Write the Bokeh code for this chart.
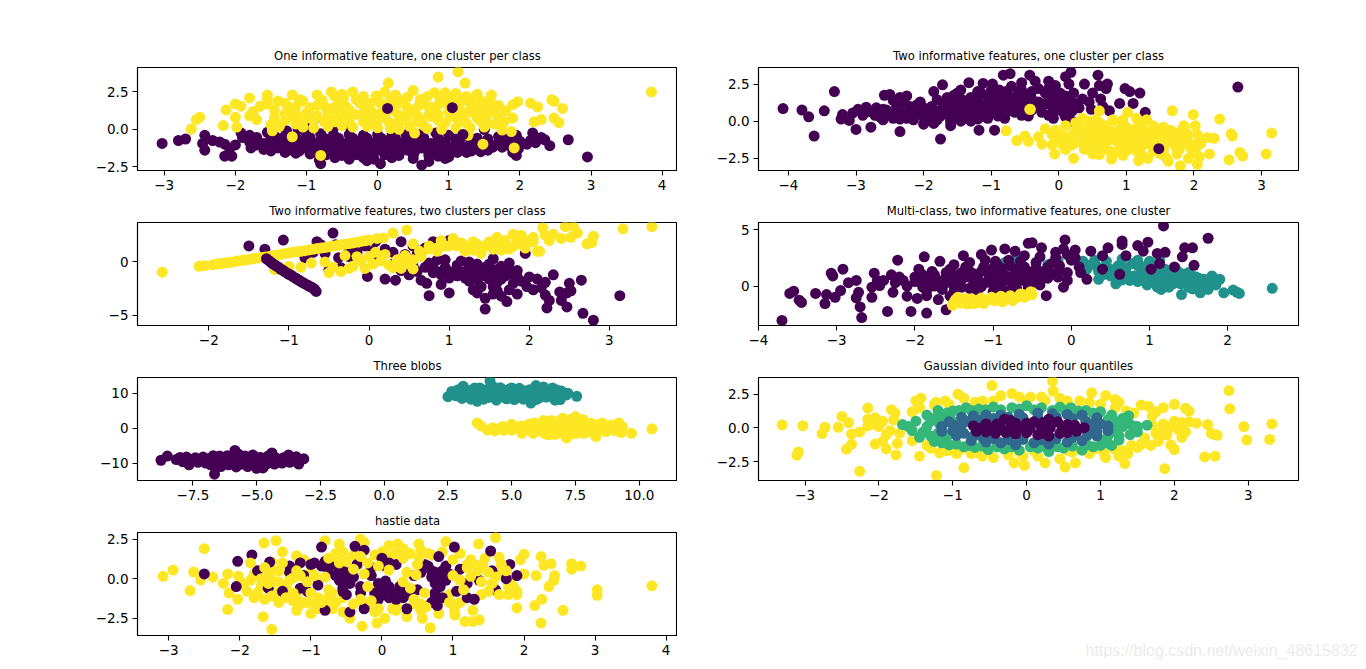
from bokeh.plotting import figure
from bokeh.layouts import column, row
from bokeh.models import ColumnDataSource, FixedTicker, Label
from bokeh.embed import file_html
from bokeh.resources import INLINE

PURPLE, TEAL, YELLOW = "#440154", "#21918c", "#fde725"
BLUE4, GREEN4 = "#31688e", "#35b779"
FONT = "DejaVu Sans"

TITLES = ["One informative feature, one cluster per class", "Two informative features, one cluster per class",
          "Two informative features, two clusters per class", "Multi-class, two informative features, one cluster",
          "Three blobs", "Gaussian divided into four quantiles", "hastie data"]

# ---------- panel 1 ----------
P1_PURPLE = [(-3.03,-0.95),(-2.8,-0.75),(-2.7,-0.65),(-2.43,-0.4),(-2.46,-0.95),(-2.43,-1.4),(-2.32,-0.75),(-2.22,-0.85),(-2.15,-1.0),(-2.15,-1.8),(-2.05,-1.8),(-2.0,-1.05),(-2.08,-1.3),
(-1.92,-0.25),(-1.8,-0.4),(-1.7,-0.55),(-1.55,-0.2),(-1.45,-0.45),(-1.28,-0.1),(-1.12,0.0),(-1.0,-0.35),(-0.9,0.6),(-0.92,0.2),(-0.62,0.1),(-0.42,0.3),(-0.8,-0.3),(-0.62,-0.35),(-0.4,-0.35),(-0.2,-0.4),(0.0,-0.35),(0.2,-0.4),(0.4,-0.35),(0.62,-0.3),(0.82,-0.25),(1.0,-0.4),(1.2,-0.45),(1.5,0.0),(1.4,-0.6),(1.7,-0.5),(1.85,-0.45),(1.95,-0.4),
(-1.8,-0.85),(-1.6,-0.95),(-1.42,-0.8),(-1.25,-0.95),(-1.05,-0.8),(-0.85,-0.9),(-0.65,-0.8),(-0.45,-0.95),(-0.25,-0.8),(-0.05,-0.9),(0.15,-0.8),(0.35,-0.9),(0.55,-0.8),(0.75,-0.95),(0.95,-0.85),(1.15,-0.9),(1.35,-0.95),(1.55,-0.95),(1.72,-0.8),(1.92,-0.9),
(-1.78,-1.25),(-1.6,-1.35),(-1.4,-1.25),(-1.2,-1.4),(-1.0,-1.25),(-0.8,-1.35),(-0.6,-1.25),(-0.4,-1.4),(-0.2,-1.3),(0.0,-1.4),(0.2,-1.3),(0.42,-1.4),(0.62,-1.25),(0.82,-1.4),(1.02,-1.3),(1.22,-1.4),(1.42,-1.3),(1.62,-1.2),
(-1.15,-1.6),(-0.95,-1.65),(-0.72,-1.7),(-0.5,-1.75),(-0.3,-1.7),(-0.1,-1.75),(0.1,-1.7),(0.3,-1.75),(0.5,-1.7),(0.72,-1.75),(0.9,-1.65),(1.25,-1.55),(1.45,-1.5),
(-0.82,-2.05),(-0.8,-2.3),(-0.4,-2.0),(-0.15,-2.1),(-0.05,-2.0),(0.04,-2.3),(0.62,-2.4),(0.72,-2.15),(0.95,-1.95),(1.0,-1.85),(1.95,-1.75),(1.98,-1.3),(2.42,-1.1),(2.3,-0.55),(2.18,-0.25),(2.35,-0.7),(2.15,-0.75),(2.0,-0.8),(2.68,-0.7),(2.95,-1.85),(1.5,0.0)]
P1_PURPLE_FILL = [(-1.9,-0.55),(-1.7,-0.75),(-1.5,-0.6),(-1.33,-0.55),(-1.15,-0.55),(-0.95,-0.55),(-0.75,-0.6),(-0.55,-0.6),(-0.35,-0.6),(-0.15,-0.6),(0.05,-0.6),(0.25,-0.6),(0.45,-0.6),(0.65,-0.6),(0.85,-0.6),(1.1,-0.65),(1.3,-0.65),(1.55,-0.65),(1.78,-0.65),
(-1.7,-1.05),(-1.5,-1.05),(-1.32,-1.1),(-1.12,-1.05),(-0.92,-1.1),(-0.72,-1.05),(-0.52,-1.15),(-0.32,-1.05),(-0.12,-1.1),(0.08,-1.05),(0.28,-1.1),(0.48,-1.05),(0.68,-1.15),(0.88,-1.1),(1.08,-1.1),(1.28,-1.15),(1.48,-1.1),(1.68,-1.0),(1.85,-1.1),
(-1.5,-1.45),(-1.3,-1.55),(-1.1,-1.45),(-0.9,-1.5),(-0.7,-1.5),(-0.5,-1.55),(-0.3,-1.5),(-0.1,-1.55),(0.1,-1.5),(0.3,-1.55),(0.52,-1.5),(0.72,-1.55),(0.92,-1.5),(1.12,-1.55),(1.32,-1.45),(1.55,-1.4),(1.75,-1.2),(1.9,-1.55),(2.22,-0.9),(2.1,-1.0),
(-0.6,-1.9),(-0.2,-1.9),(0.2,-1.9),(0.5,-1.95),(0.85,-1.8)]
P1_YELLOW = [(3.85,2.5),(1.13,3.85),(0.85,3.5),(1.23,3.1),(0.15,3.1),(2.45,1.98),(2.48,1.88),(2.6,1.4),(2.48,0.75),(2.55,0.45),(2.3,0.65),(2.2,0.5),(2.25,1.5),(2.15,1.75),(1.97,1.85),(1.9,1.65),(1.8,1.25),(1.9,0.75),(1.78,0.5),(1.92,-1.25),(-2.62,0.02),(-2.5,0.8),(-2.55,0.65),(-2.17,0.25),(-2.13,1.3),(-2.0,1.7),(-1.92,1.55),(-2.0,0.8),(-1.98,0.15),(-1.8,2.1),(-1.7,0.65),(-1.65,1.55),(-1.8,0.9),(-1.55,2.3),(-1.48,-0.1),(-1.55,2.0),
(-1.4,1.9),(-1.25,1.5),(-1.2,2.3),(-1.05,1.9),(-0.85,2.3),(-0.65,2.5),(-0.5,2.35),(-0.35,2.5),(-0.2,2.2),(-0.02,2.25),(0.1,2.5),(0.3,2.0),(0.5,2.6),(0.7,2.2),(0.8,2.45),(0.95,2.45),(1.1,2.4),(1.25,2.2),(1.4,2.35),(1.6,2.3),(1.45,1.9),
(-1.45,1.3),(-1.3,1.05),(-1.15,1.5),(-1.0,1.1),(-0.85,1.6),(-0.7,1.2),(-0.55,1.75),(-0.4,1.3),(-0.25,1.75),(-0.1,1.25),(0.05,1.7),(0.2,1.3),(0.35,1.75),(0.5,1.3),(0.65,1.75),(0.8,1.3),(0.95,1.8),(1.15,1.35),(1.3,1.75),(1.45,1.3),(1.6,1.6),(1.65,1.1),
(-1.3,0.6),(-1.15,0.35),(-1.0,0.75),(-0.75,0.5),(-0.55,0.85),(-0.4,0.55),(-0.2,0.8),(-0.05,0.4),(0.1,0.8),(0.25,0.35),(0.4,0.8),(0.55,0.5),(0.75,0.85),(0.95,0.45),(1.1,0.8),(1.25,0.4),(1.4,0.75),(1.55,0.4),
(-0.9,0.1),(-0.15,0.2),(0.18,0.05),(0.45,0.2),(0.9,0.0),(1.1,0.1),(1.75,-0.05),(1.88,-0.15),(0.52,-0.25),(1.27,-0.4),(-1.2,-0.5),(1.48,-1.0)]
P1_YELLOW_FILL = [(-1.55,1.7),(-1.45,0.8),(-1.3,1.75),(-1.15,1.0),(-1.1,2.0),(-0.95,1.45),(-0.9,0.6),(-0.78,1.95),(-0.62,1.45),(-0.6,0.5),(-0.48,2.1),(-0.32,1.0),(-0.3,2.0),(-0.15,1.45),(-0.12,0.7),(0.0,2.0),(0.0,1.0),(0.12,1.45),(0.15,0.5),(0.18,2.05),(0.28,1.0),(0.42,1.45),(0.42,2.15),(0.55,0.95),(0.6,2.0),(0.72,1.5),(0.65,0.25),(0.85,1.0),(0.88,2.05),(1.02,1.5),(1.02,0.9),(1.05,2.1),(1.2,1.95),(1.22,1.0),(1.38,1.5),(1.35,1.1),(1.52,0.95),(1.58,2.0),(1.7,0.75),(1.7,1.6),(-0.7,0.2),(-0.5,0.25),(-0.35,0.15),(-1.05,0.15),(0.0,0.1),(0.3,0.0),(0.7,0.05),(1.3,0.1),(1.5,0.15),(1.65,0.35),(-1.75,1.2),(-1.5,0.3),(-1.38,0.2),
(-1.2,0.8),(-1.25,1.25),(-1.05,0.55),(-0.85,0.9),(-0.7,0.85),(-0.75,1.55),(-0.6,2.2),(-0.45,1.0),(-0.45,1.55),(-0.2,0.5),(-0.2,1.1),(-0.1,1.75),(0.08,1.15),(0.25,1.65),(0.25,2.3),(0.35,0.6),(0.42,1.1),(0.58,1.6),(0.6,0.7),(0.72,1.0),(0.85,1.65),(0.85,0.6),(1.0,1.2),(1.12,1.7),(1.15,0.55),(1.3,1.25),(1.3,2.0),(1.45,0.55),(1.55,1.05),(1.55,1.55),(0.0,0.6),(-0.55,1.2)]
P1_TOP_PURPLE = [(0.14,1.4),(1.05,1.45),(1.2,-0.35)]
P1_TOP_YELLOW = [(-0.8,-1.75)]

# ---------- panel 2 ----------
P2_PURPLE = [(-4.08,0.85),(-3.8,0.75),(-3.7,0.3),(-3.62,-1.0),(-3.47,0.7),(-3.32,2.0),(-3.2,0.45),(-3.22,0.15),(-3.1,0.05),(-3.0,-0.55),(-2.97,0.8),(-2.85,0.95),(-2.78,-0.4),(-2.72,0.4),(-2.6,0.1),(-2.6,0.8),(-2.58,1.75),(-2.5,1.8),(-2.45,1.4),(-2.45,0.2),(-2.35,-0.7),(-2.3,1.2),(-2.3,0.5),(-2.25,1.7),(-2.15,0.1),(-2.1,0.75),(-2.05,1.3),(-2.0,-0.2),(-1.95,0.5),(-1.88,1.0),(-1.85,2.0),(-1.8,0.1),(-1.75,-1.2),(-1.72,2.45),(-1.7,1.2),(-1.65,0.5),(-1.6,-0.3),(-1.55,1.75),(-1.5,0.8),(-1.45,0.0),(-1.42,1.35),(-1.35,0.4),(-1.33,2.6),(-1.25,1.0),(-1.2,2.0),(-1.18,-0.6),(-1.15,0.3),(-1.12,2.55),(-1.05,1.3),(-1.0,0.55),(-0.98,2.5),(-0.95,-0.6),(-0.92,1.7),(-0.85,1.0),(-0.8,0.2),(-0.82,3.1),(-0.78,2.0),(-0.72,3.2),(-0.7,1.3),(-0.65,0.6),(-0.6,1.7),(-0.55,2.6),(-0.5,1.1),(-0.45,0.35),(-0.43,3.1),(-0.4,2.0),(-0.35,2.7),(-0.3,1.3),(-0.25,0.6),(-0.2,1.9),(-0.15,2.7),(-0.1,1.0),(-0.08,0.2),(-0.05,2.4),(0.0,1.4),(0.08,0.5),(0.1,3.0),(0.12,1.1),(0.15,2.5),(0.18,3.3),(0.2,0.0),(0.3,0.9),(0.38,2.5),(0.45,1.3),(0.5,1.9),(0.58,3.1),(0.6,2.4),(0.65,1.0),(0.7,2.2),(0.72,2.5),(0.75,0.7),(0.9,1.2),(0.98,2.2),(1.05,2.0),(1.1,1.2),(1.2,1.9),(1.28,0.6),(2.65,2.3),
(-2.9,0.4),(-2.5,0.5),(-2.2,0.6),(-1.9,0.6),(-1.55,1.1),(-1.3,1.6),(-1.1,0.8),(-0.75,1.0),(-0.55,0.4),(-0.35,1.0),(-0.15,0.4),(0.15,1.5),(-2.4,1.0),(-1.98,0.1),(-1.6,0.1),(-1.3,0.0),(-2.7,0.9)]
P2_PURPLE_FILL = [(-3.05,0.55),(-2.8,0.65),(-2.65,0.3),(-2.4,0.6),(-2.35,0.15),(-2.2,1.0),(-2.15,0.35),(-2.0,0.9),(-2.02,0.4),(-1.85,0.35),(-1.8,1.45),(-1.75,0.75),(-1.65,1.6),(-1.6,0.85),(-1.55,0.35),(-1.45,1.5),(-1.42,0.65),(-1.3,1.1),(-1.25,0.4),(-1.2,1.6),(-1.12,1.05),(-1.05,1.7),(-1.05,0.2),(-0.95,1.15),(-0.9,0.35),(-0.88,2.1),(-0.8,1.5),(-0.7,0.7),(-0.7,2.35),(-0.62,1.1),(-0.55,2.1),(-0.52,0.7),(-0.4,1.5),(-0.4,0.75),(-0.3,2.2),(-0.25,1.0),(-0.12,1.5),(-0.05,0.7),(0.02,1.9),(0.08,1.0),(0.2,0.7),(0.25,1.2),(0.22,1.9),(0.35,1.5),(0.48,0.8),(0.62,1.5),(-1.6,-0.05),(-1.4,0.2),(-1.85,-0.15),(-2.55,0.75),(-2.35,1.6),(-1.15,0.7),(-0.95,0.75),(-1.45,2.1),(-1.0,2.05),(-0.6,2.0),(-0.15,2.2),(0.0,1.0),
(-2.6,0.45),(-2.25,0.2),(-2.1,1.1),(-1.75,0.35),(-1.65,1.0),(-1.5,0.55),(-1.35,0.8),(-1.35,1.4),(-1.2,0.15),(-1.2,1.25),(-1.0,1.0),(-0.85,0.6),(-0.85,1.3),(-0.75,1.75),(-0.6,0.9),(-0.5,1.4),(-0.45,1.75),(-0.2,1.2),(-0.1,1.75),(0.1,1.7),(0.1,0.3),(-1.5,1.9),(-1.15,1.9)]
P2_YELLOW = [(-0.78,-0.65),(-0.62,-1.3),(-0.5,-1.0),(-0.45,-1.35),(-0.3,-1.05),(-0.25,-1.55),(-0.2,-0.5),(-0.1,-0.9),(-0.06,-2.2),(0.0,-1.3),(0.1,-0.3),(0.1,-1.9),(0.22,-2.5),(0.2,-0.9),(0.3,-1.4),(0.35,0.2),(0.38,-1.9),(0.45,-0.4),(0.5,-1.0),(0.55,-1.7),(0.6,0.7),(0.7,-0.3),(0.72,-1.3),(0.78,-2.55),(0.85,-0.8),(0.9,-1.8),(1.0,-0.4),(1.02,0.6),(1.08,-1.3),(1.15,-2.0),(1.18,-2.65),(1.25,-0.6),(1.3,-1.5),(1.32,-2.5),(1.4,-0.3),(1.42,-1.0),(1.5,-2.2),(1.55,-0.4),(1.6,-1.4),(1.62,-2.7),(1.68,0.7),(1.72,-0.8),(1.78,-1.9),(1.8,-3.0),(1.85,-0.3),(1.9,-1.2),(1.92,-2.5),(1.99,0.45),(2.02,-0.3),(2.03,-1.8),(2.05,-2.9),(2.1,-1.2),(2.2,-1.1),(2.23,-2.2),(2.3,-1.15),(2.38,0.15),(2.55,-0.85),(2.57,-1.0),(2.52,-2.6),(2.68,-2.1),(2.72,-2.35),(3.07,-2.2),(3.15,-0.8),(2.0,-1.6),(2.08,-2.4),
(0.4,-0.9),(0.6,-1.2),(0.8,-0.9),(1.0,-1.1),(1.2,-0.9),(1.4,-1.7),(1.6,-0.9),(0.6,-0.7),(0.9,-1.5),(1.1,-1.8),(1.25,-1.2),(1.7,-1.4),(1.8,-1.0),(0.3,-0.4),(0.5,-2.2),(0.95,-2.3),(0.6,-2.25),(1.4,-2.0),(0.15,-1.1),(-0.42,0.8),(1.3,0.1),(0.8,0.1),(0.55,0.1)]
P2_YELLOW_FILL = [(-0.05,-0.6),(0.05,-1.55),(0.2,-1.6),(0.25,-0.1),(0.4,-1.35),(0.45,0.0),(0.5,-0.65),(0.65,-1.6),(0.68,-0.95),(0.75,-0.55),(0.75,-2.0),(0.85,-1.3),(0.9,-0.2),(0.95,-0.75),(1.0,-1.6),(1.0,-2.0),(1.12,-0.55),(1.15,-1.55),(1.2,-0.2),(1.22,-2.25),(1.35,-0.8),(1.38,-1.35),(1.45,-0.6),(1.5,-1.6),(1.55,-0.95),(1.55,-1.9),(1.58,-2.4),(1.65,-0.6),(1.65,-1.15),(1.72,-1.65),(1.75,-2.2),(1.82,-0.6),(1.85,-1.5),(1.9,-0.85),(1.95,-1.8),(1.98,-2.1),(2.05,-0.9),(2.1,-1.5),(0.35,-0.75),(0.45,-1.6),(0.7,-1.9),(0.85,-2.1),(1.1,-0.95),(1.22,-1.75),(0.25,-0.65),(-0.1,-1.6),(0.05,-0.95),(0.6,-0.1),(0.95,0.1),(1.15,0.2)]
P2_TOP_PURPLE = [(1.48,-1.85)]
P2_TOP_YELLOW = [(-0.43,0.8)]

# ---------- panel 3 ----------
P3_YELLOW_LINE = [(-2.58,-0.95),(-2.12,-0.4),(-2.05,-0.35),(-1.95,-0.25),(-1.85,-0.15),(-1.75,-0.05),(-1.65,0.08),(-1.55,0.18),(-1.45,0.3),(-1.35,0.42),(-1.25,0.52),(-1.15,0.65),(-1.05,0.78),(-0.95,0.9),(-0.85,1.0),(-0.75,1.12),(-0.65,1.25),(-0.55,1.35),(-0.45,1.5),(-0.35,1.6),(-0.25,1.72),(-0.15,1.85),(-0.05,1.98),(0.1,2.2),(0.18,2.25),
(-1.9,-0.2),(-1.8,-0.1),(-1.7,0.0),(-1.6,0.13),(-1.5,0.24),(-1.4,0.36),(-1.3,0.47),(-1.2,0.58),(-1.1,0.7),(-1.0,0.84),(-0.9,0.95),(-0.8,1.06),(-0.7,1.18),(-0.6,1.3),(-0.5,1.42),(-0.4,1.55),(-0.3,1.66),(-0.2,1.78),(-0.1,1.92),(0.0,2.05)]
P3_PURPLE = [(-1.5,1.5),(-1.07,2.05),(-0.65,1.9),(-0.6,1.6),(-0.45,2.7),(-0.42,1.6),(-1.3,1.2),(-0.8,0.4),(-0.7,0.9),(-0.35,-0.55),(-0.5,-0.7),(-0.38,0.4),(-0.25,1.1),(-0.15,0.9),(0.08,1.9),(0.05,1.0),(-0.02,-1.35),(0.12,0.3),(0.2,1.2),(0.2,-1.6),(0.3,0.9),(0.33,-1.7),(0.4,1.9),(0.45,0.7),(0.5,-1.2),(0.55,-0.4),(0.55,1.5),(0.6,0.7),(0.65,-1.7),(0.75,-0.1),(0.75,-3.15),(0.72,-2.0),(0.8,1.9),(0.8,-1.0),(0.85,0.2),(0.9,-2.1),(0.95,-0.5),(1.0,2.0),(1.0,-1.5),(1.0,-2.9),(1.1,-0.3),(1.15,-1.1),(1.25,-1.8),(1.25,-0.4),(1.3,-2.6),(1.35,-1.0),(1.45,-0.5),(1.45,-4.4),(1.45,-3.4),(1.5,-1.6),(1.55,0.3),(1.55,-2.3),(1.6,-0.7),(1.7,-1.3),(1.72,-3.7),(1.75,-0.1),(1.75,-2.6),(1.85,-3.0),(1.85,-0.8),(1.9,-1.8),(1.95,0.8),(1.97,-2.3),(2.1,-1.6),(2.2,-1.9),(2.22,-4.3),(2.25,-3.6),(2.3,-1.2),(2.38,-2.8),(2.4,-3.6),(2.47,-2.9),(2.47,-4.2),(2.5,-2.0),(2.52,-2.7),(2.65,-1.7),(2.67,-4.8),(2.8,-5.45),(3.13,-3.15),(2.2,-3.1),(2.05,-2.6),(1.6,-1.1),(1.2,-0.9),(1.1,-1.3),(0.8,-0.5),(0.5,-0.7)]
P3_PURPLE_FILL = [(0.6,-0.9),(0.7,-0.5),(0.9,-0.9),(1.0,-0.9),(1.2,-1.5),(1.25,-1.2),(1.35,-1.7),(1.4,-0.7),(1.4,-2.3),(1.5,-1.0),(1.5,-0.2),(1.6,-1.9),(1.6,-2.7),(1.65,-0.4),(1.65,-1.6),(1.75,-0.7),(1.75,-1.1),(1.8,-2.0),(1.85,-1.4),(1.55,-3.0),(1.65,-3.2),(2.0,-1.4),(2.15,-2.4),(1.35,-2.9),(1.05,-1.05),(1.15,0.1),(1.25,0.0),(0.9,-1.2),(0.4,-0.8),(0.3,-0.2),(0.7,1.3),(0.45,0.2),(1.35,-0.2),(1.1,-0.7),(1.45,-1.3),(1.55,-1.4),(0.95,0.2),(-0.15,0.5),(-0.05,1.5),(-0.55,0.8),(-0.25,0.5)]
P3_PURPLE_LINE = [(-1.28,0.3),(-1.22,-0.05),(-1.17,-0.3),(-1.12,-0.55),(-1.07,-0.8),(-1.02,-1.05),(-0.97,-1.25),(-0.92,-1.5),(-0.87,-1.72),(-0.82,-1.95),(-0.77,-2.15),(-0.72,-2.35),(-0.66,-2.75),(-0.68,-2.55),(-1.25,0.12),(-1.2,-0.18),(-1.15,-0.42),(-1.1,-0.68),(-1.05,-0.92),(-1.0,-1.15),(-0.95,-1.38),(-0.9,-1.6),(-0.85,-1.84),(-0.8,-2.05),(-0.75,-2.25),(-0.7,-2.45)]
P3_YELLOW = [(-1.18,-0.7),(-1.0,-0.4),(-0.85,-0.5),(-0.72,-0.1),(-0.55,0.0),(-0.5,-1.0),(-0.45,-0.5),(-0.35,-0.9),(-0.2,-0.4),(-0.15,0.5),(-0.05,-0.6),(0.0,0.5),(0.08,0.9),(0.15,0.1),(0.25,-0.3),(0.35,0.2),(0.4,-0.6),(0.5,-0.2),(0.55,-0.65),(0.45,0.6),(0.3,2.7),(0.47,3.0),(0.55,1.7),(0.63,1.0),(0.75,1.2),(0.85,1.3),(0.9,2.0),(1.05,2.2),(1.1,1.5),(1.15,1.8),(1.2,1.0),(1.3,1.9),(1.4,0.8),(1.45,1.5),(1.5,1.9),(1.55,1.2),(1.6,2.3),(1.65,1.5),(1.7,2.0),(1.75,1.2),(1.8,2.6),(1.85,1.7),(1.9,2.5),(2.0,2.0),(2.05,2.3),(2.1,1.0),(2.13,1.0),(2.17,3.2),(2.2,2.5),(2.25,2.0),(2.3,2.6),(2.4,2.2),(2.45,3.3),(2.55,3.3),(2.6,2.7),(2.52,2.3),(2.8,2.4),(2.78,1.8),(2.72,1.7),(3.17,3.1),(3.53,3.3),(1.95,1.3),(1.35,1.3),(1.25,1.5),
(1.2,1.45),(1.3,1.1),(1.35,1.65),(1.4,1.2),(1.5,1.5),(1.55,1.7),(1.65,1.1),(1.7,1.7),(1.8,1.45),(1.85,2.1),(1.95,1.7),(2.05,1.9),(0.65,0.5),(0.75,1.5),(0.95,1.5),(0.85,1.0),(1.0,1.5),(0.4,-0.2),(0.3,-0.55),(0.55,0.2),(-0.25,-0.6),(-0.3,0.6),(-0.1,0.1),(0.05,-0.2),(0.2,0.7)]

# ---------- panel 4 ----------
P4_TEAL = [(-0.85,2.1),(-0.7,2.3),(-0.3,1.9),(-0.17,2.3),(0.15,2.2),(0.3,2.3),(0.32,1.8),(0.35,0.6),(0.45,2.2),(0.6,1.8),(0.57,0.2),(0.65,2.4),(0.7,1.2),(0.78,2.0),(0.82,0.9),(0.85,2.3),(0.9,1.5),(0.97,0.1),(1.0,2.2),(1.05,1.2),(1.1,0.5),(1.13,2.3),(1.15,-0.3),(1.2,1.5),(1.25,0.9),(1.3,0.2),(1.35,1.4),(1.4,0.7),(1.41,-0.75),(1.5,1.2),(1.55,0.2),(1.6,0.8),(1.65,-0.6),(1.7,0.6),(1.75,-0.3),(1.8,0.9),(1.85,0.1),(1.9,0.6),(1.95,-0.6),(2.07,-0.35),(2.12,-0.55),(2.15,-0.65),(2.57,-0.2),(0.2,1.5),(0.4,1.0),(0.5,1.5),(0.6,1.0),(0.75,0.5),(0.9,0.9),(1.0,0.5),(1.15,0.9),(1.4,0.2),(1.5,0.6),(1.25,-0.1),(1.35,0.5),(1.65,0.2),(1.75,0.2),(1.55,-0.25),
(0.25,1.9),(0.45,1.75),(0.55,1.15),(0.7,1.6),(0.72,0.85),(0.85,1.85),(0.85,0.4),(0.95,1.2),(0.95,1.75),(1.05,0.85),(1.05,1.7),(1.1,0.15),(1.15,1.3),(1.2,0.55),(1.25,1.2),(1.3,0.6),(1.35,0.95),(1.42,1.1),(1.45,0.45),(1.5,-0.1),(1.55,0.9),(1.6,0.45),(1.65,0.65),(1.7,-0.05),(1.75,0.55),(1.8,0.3),(1.1,-0.1),(1.2,0.2),(0.8,0.9),(0.65,0.55),(0.5,0.9),(0.35,1.3)]
P4_PURPLE = [(-3.7,-3.05),(-3.6,-0.65),(-3.55,-0.45),(-3.48,-1.25),(-3.45,-1.45),(-3.27,-0.65),(-3.15,-1.55),(-3.13,-0.75),(-3.07,1.15),(-3.05,0.9),(-3.02,-1.0),(-2.95,-0.4),(-2.92,1.5),(-2.85,0.3),(-2.75,0.5),(-2.75,-1.05),(-2.72,-0.55),(-2.7,-1.85),(-2.68,-2.8),(-2.55,-0.1),(-2.55,-1.0),(-2.52,1.15),(-2.48,0.5),(-2.45,0.05),(-2.35,-2.25),(-2.3,1.0),(-2.28,-0.55),(-2.22,2.3),(-2.2,0.8),(-2.1,-0.9),(-2.1,0.0),(-2.05,-2.25),(-2.0,0.8),(-1.97,-1.1),(-1.95,1.5),(-1.85,-0.85),(-1.85,-2.4),(-1.88,0.3),(-1.88,2.6),(-1.78,1.3),(-1.7,-1.2),(-1.7,0.5),(-1.68,2.2),(-1.6,-2.1),(-1.55,1.0),(-1.5,0.0),(-1.5,1.9),(-1.42,0.5),(-1.38,2.7),(-1.3,1.3),(-1.25,0.2),(-1.2,-1.3),(-1.15,2.8),(-1.12,1.7),(-1.05,0.7),(-1.02,3.2),(-0.97,2.2),(-0.95,-0.2),(-0.9,1.3),(-0.85,3.3),(-0.8,-0.4),(-0.78,1.8),(-0.72,3.1),(-0.65,2.2),(-0.62,0.5),(-0.55,1.3),(-0.55,3.8),(-0.5,3.85),(-0.45,2.1),(-0.38,3.4),(-0.35,1.0),(-0.32,-0.85),(-0.3,1.7),(-0.2,2.5),(-0.17,0.8),(-0.1,-0.1),(-0.08,4.1),(-0.1,3.3),(-0.05,0.5),(0.0,2.3),(0.05,3.2),(0.12,1.2),(0.2,0.6),(0.25,3.1),(0.4,2.7),(0.47,3.4),(0.65,4.0),(0.65,3.7),(0.7,2.7),(0.85,3.6),(0.92,3.1),(0.98,3.9),(1.02,1.5),(1.1,2.9),(1.13,2.0),(1.18,5.35),(1.2,3.0),(1.32,1.7),(1.42,2.6),(1.45,3.4),(1.55,3.4),(1.57,1.85),(1.75,4.25),(0.62,1.05),(0.4,1.5),
(-1.6,0.3),(-1.4,1.2),(-1.1,0.3),(-0.85,0.5),(-0.65,1.2),(-1.3,-0.2),(-1.5,-0.5),(-1.0,-0.5),(-0.5,0.9),(-0.25,1.1),(-1.75,0.0),(-1.2,0.8),(-1.65,-0.3),(-1.9,-0.1),(-0.75,0.9),(-0.4,1.3),
(-1.75,1.0),(-1.6,0.8),(-1.55,1.5),(-1.45,1.0),(-1.35,0.8),(-1.35,1.7),(-1.25,1.1),(-1.2,0.3),(-1.15,1.3),(-1.1,2.3),(-1.05,1.3),(-1.0,0.1),(-0.95,0.9),(-0.85,1.0),(-0.8,2.3),(-0.75,0.3),(-0.7,1.5),(-0.6,1.7),(-0.6,2.7),(-0.5,0.3),(-0.45,1.6),(-0.4,2.6),(-0.3,0.7),(-0.25,2.0),(-0.15,1.4),(-0.2,3.0),(-0.05,2.8),(0.05,2.5),(-1.4,-0.1),(-1.8,0.5),(-1.9,1.0),(-2.25,0.3),(-2.4,0.5),(-2.0,0.4),(-1.85,-0.4),(-1.55,-0.9),(-1.65,0.05),(-1.2,-0.4),(-0.9,-0.1),(-0.7,-0.2),(-0.55,-0.1),(-0.4,0.1),(-0.95,1.9),(-1.3,2.1),(-1.55,0.6),
(-1.45,0.25),(-1.15,-0.05),(-0.95,0.4),(-0.7,0.6),(-0.55,0.6),(-0.4,0.5),(-0.3,1.3),(-0.15,1.8),(-0.05,1.2),(0.1,1.7),(-0.9,1.6),(-1.0,1.6),(-1.25,0.6),(-1.4,0.65),(-1.7,0.3),(-2.15,0.5),(-1.6,1.2),(-1.8,0.8)]
P4_YELLOW = [(-1.52,-1.7),(-1.48,-1.2),(-1.42,-1.5),(-1.35,-1.1),(-1.3,-1.35),(-1.22,-1.5),(-1.15,-1.05),(-1.1,-1.35),(-1.02,-1.0),(-0.98,-1.3),(-0.9,-0.9),(-0.85,-1.2),(-0.78,-0.85),(-0.72,-1.1),(-0.65,-0.7),(-0.6,-1.0),(-0.52,-0.5),(-0.5,-0.75),
(-1.5,-1.45),(-1.45,-1.0),(-1.38,-1.35),(-1.33,-1.6),(-1.27,-1.15),(-1.2,-1.25),(-1.12,-1.55),(-1.05,-1.2),(-0.95,-1.1),(-0.88,-1.4),(-0.8,-1.05),(-0.75,-1.3),(-0.68,-0.95),(-0.62,-0.75),(-0.55,-0.8),(-1.25,-1.55)]

# ---------- panel 5 ----------
P5_PURPLE = [(-8.75,-9.2),(-8.5,-8.0),(-8.15,-9.0),(-8.0,-8.4),(-7.9,-9.6),(-7.75,-8.3),(-7.65,-10.5),(-7.5,-9.0),(-7.4,-8.5),(-7.3,-9.8),(-7.1,-8.3),(-7.0,-10.0),(-6.9,-8.8),(-6.8,-10.5),(-6.7,-7.9),(-6.65,-13.2),(-6.6,-9.6),(-6.45,-8.0),(-6.4,-11.0),(-6.3,-9.0),(-6.15,-7.9),(-6.1,-10.5),(-5.95,-8.8),(-5.85,-6.4),(-5.8,-11.1),(-5.7,-7.5),(-5.6,-9.7),(-5.45,-8.0),(-5.35,-11.0),(-5.3,-9.0),(-5.15,-7.7),(-5.1,-10.3),(-5.0,-11.5),(-4.85,-8.4),(-4.75,-11.4),(-4.7,-9.4),(-4.55,-8.0),(-4.4,-7.1),(-4.3,-10.3),(-4.25,-8.5),(-4.1,-9.3),(-3.95,-8.5),(-3.8,-9.3),(-3.75,-7.7),(-3.6,-9.2),(-3.45,-8.2),(-3.35,-10.3),(-3.3,-9.3),(-3.15,-8.8),(-7.0,-9.0),(-6.5,-9.0),(-5.8,-9.0),(-5.0,-9.3),(-4.5,-9.4),
(-7.85,-8.9),(-7.6,-9.6),(-7.2,-9.0),(-6.75,-9.2),(-6.55,-10.2),(-6.2,-10.0),(-6.05,-8.2),(-5.65,-10.4),(-5.55,-8.5),(-5.25,-10.0),(-4.95,-8.5),(-4.6,-10.2),(-4.45,-8.8),(-4.0,-10.0),(-3.7,-9.8),(-6.95,-9.5),(-5.4,-9.5),(-4.85,-9.9),(-4.2,-9.7)]
P5_TEAL = [(2.5,9.0),(2.65,10.5),(2.8,9.3),(2.9,11.0),(3.05,8.5),(3.1,12.0),(3.25,10.0),(3.4,8.3),(3.55,11.5),(3.7,9.5),(3.75,11.5),(3.65,7.7),(3.9,8.3),(4.0,11.0),(4.15,13.5),(4.2,9.5),(4.3,11.8),(4.4,8.0),(4.5,10.3),(4.65,11.0),(4.8,8.4),(4.9,10.0),(5.0,11.5),(5.1,8.2),(5.2,10.0),(5.3,11.4),(5.45,8.3),(5.55,10.2),(5.7,11.0),(5.75,7.2),(5.9,9.4),(5.95,12.2),(6.05,8.5),(6.15,10.5),(6.25,11.8),(6.35,8.9),(6.5,10.5),(6.7,8.0),(6.75,11.0),(6.9,8.2),(7.0,10.0),(7.15,9.5),(7.55,9.1),(3.0,9.5),(4.6,9.5),(5.6,9.5),(6.4,9.7),
(2.7,9.7),(2.95,10.2),(3.2,9.0),(3.35,10.8),(3.5,9.4),(3.6,8.8),(3.85,10.2),(3.95,9.4),(4.1,8.8),(4.25,10.4),(4.45,9.0),(4.55,11.6),(4.7,8.8),(4.85,11.0),(5.0,9.0),(5.15,11.0),(5.3,8.8),(5.45,10.8),(5.6,8.7),(5.85,10.5),(5.95,8.2),(6.1,11.2),(6.3,9.6),(6.55,9.0),(6.6,11.5),(6.85,9.2),(6.95,10.6),(7.2,10.0),(4.75,10.5),(5.1,10.6),(5.4,9.4),(6.75,9.5)]
P5_YELLOW = [(3.65,1.5),(3.8,0.6),(4.05,-0.6),(4.25,0.1),(4.35,-0.8),(4.65,0.5),(4.7,-0.6),(5.0,1.1),(5.0,-0.6),(5.35,0.6),(5.4,-1.5),(5.6,-0.4),(5.7,1.2),(5.85,-1.5),(6.0,0.5),(6.1,-0.8),(6.25,2.2),(6.35,0.5),(6.45,-1.9),(6.55,2.2),(6.65,-0.8),(6.8,1.0),(6.9,-1.5),(7.0,2.8),(7.15,-2.8),(7.2,0.3),(7.3,2.5),(7.5,3.3),(7.55,-1.5),(7.7,0.5),(7.8,2.5),(7.95,-0.9),(8.1,1.4),(8.3,-2.4),(8.35,0.2),(8.55,1.5),(8.7,-1.0),(8.9,0.9),(9.05,-0.7),(9.2,1.5),(9.3,-1.3),(9.35,0.3),(9.7,-1.5),(10.5,-0.2),(6.2,-0.2),(7.0,0.0),(7.5,0.5),
(4.5,-0.2),(4.9,-0.2),(5.2,0.2),(5.5,0.6),(5.75,-0.7),(5.9,1.5),(6.2,1.0),(6.3,-1.6),(6.5,1.2),(6.7,-1.8),(6.85,2.0),(7.05,-1.0),(7.1,1.2),(7.35,-1.7),(7.45,1.6),(7.6,-0.5),(7.75,1.6),(7.85,-1.5),(8.0,0.2),(8.2,-1.2),(8.3,1.0),(8.5,-0.3),(8.7,0.5),(8.95,0.0),(9.2,-0.4),(6.8,-0.3),(7.35,0.5),(8.05,0.9)]

# ---------- panel 6 ----------
P6_YELLOW = [(-3.31,0.22),(-3.03,0.17),(-2.77,-0.42),(-2.73,0.05),(-2.55,0.05),(-2.5,0.85),(-2.41,0.4),(-2.37,-0.45),(-2.26,-0.3),(-2.15,1.47),(-2.15,0.65),(-2.1,0.3),(-2.05,0.75),(-2.0,0.1),(-2.05,-1.2),(-1.95,-1.0),(-1.9,-1.55),(-1.85,-0.2),(-1.83,1.35),(-1.8,0.6),(-1.78,1.1),(-1.75,-1.15),(-1.77,-2.0),(-1.72,-0.4),(-3.09,-1.78),(-3.11,-2.02),(-2.44,-1.57),(-2.37,-1.22),(-2.26,-3.22),(-1.22,-3.52),(-0.85,-2.95),(-0.47,3.15),(0.35,3.47),(0.36,2.72),(0.88,2.6),(2.74,2.77),(2.75,1.42),(2.94,0.1),(3.32,0.3),(2.98,-0.9),(3.29,-0.85),(2.41,-2.15),(2.55,-2.1),(1.87,-3.02),(1.33,-2.65),(1.07,-2.2),(0.52,-2.9),(0.66,-2.6),(0.25,-2.6),(-0.03,-2.77),(-0.17,-2.6),(-1.45,-2.1),(-1.3,-1.5),(-1.55,-0.95),(-1.18,-1.85),(-1.05,-1.65),(-0.9,-1.6),(-0.75,-1.9),(-0.6,-2.1),(-0.55,-1.7),(-0.45,-2.2),(-0.3,-1.6),(-0.1,-1.8),(0.1,-1.7),(0.15,-2.1),(0.3,-1.5),(0.45,-2.3),(0.55,-1.65),(0.62,-1.8),(0.95,-1.5),(1.2,-1.6),(1.25,-2.1),(1.37,-1.9),(1.42,-1.3),(1.5,-1.45),(1.68,-1.3),(1.6,-0.75),(1.78,-1.0),(1.9,-0.5),(1.95,-1.25),(2.0,-1.6),(2.1,-0.7),(1.85,-0.1),(1.95,0.15),(2.1,0.4),(2.2,0.45),(1.7,0.9),(1.55,1.7),(1.65,1.6),(1.75,1.2),(1.85,1.5),(2.0,1.75),(2.15,1.45),(2.2,1.25),(2.3,0.35),(2.45,0.25),(2.5,-0.4),(2.55,-0.5),(2.58,-0.55),(1.35,1.25),(1.2,2.1),(1.25,1.9),(1.07,2.4),(0.72,2.0),(0.85,1.9),(0.55,2.0),(0.25,2.05),(0.05,2.3),(-0.2,2.55),(-0.1,2.3),(-0.35,2.4),(-0.6,2.0),(-0.85,2.2),(-0.93,2.5),(-1.1,2.0),(-1.23,1.9),(-1.5,2.0),(-1.43,2.2),(-1.55,1.2),
(1.85,0.3),(1.9,-0.3),(2.05,-0.1),(2.15,-0.3),(1.75,-0.4),(1.7,0.2),(2.0,0.5),(1.8,-0.7),(1.55,-1.2),(1.3,-1.7),(1.05,-1.9),(0.85,-1.9),(-0.05,-2.1),(-0.25,-2.0),(-0.65,-1.85),(-0.95,-1.9),(-1.1,-1.7),(-1.35,-1.3),(-1.25,1.7),(-1.05,1.75),(-0.7,1.9),(-0.45,2.0),(0.0,2.0),(0.2,2.3),(0.45,2.2),(1.0,1.75),(1.2,1.5),(1.45,1.1),(-1.95,0.5),(-1.9,-0.5),(-2.15,0.15),(-1.45,1.5)]
P6_GREEN = [(-1.68,0.25),(-1.55,-0.2),(-1.5,0.5),(-1.45,-0.7),(-1.35,0.95),(-1.35,0.1),(-1.25,-1.0),(-1.2,1.3),(-1.18,0.3),(-1.05,-1.25),(-1.0,1.25),(-1.0,0.5),(-0.85,-1.4),(-0.82,1.5),(-0.7,-1.45),(-0.65,1.4),(-0.52,-1.6),(-0.45,1.55),(-0.3,-1.55),(-0.2,1.5),(-0.1,-1.65),(0.0,1.65),(0.15,-1.5),(0.2,1.5),(0.3,-1.75),(0.45,1.55),(0.5,-1.5),(0.6,1.5),(0.75,-1.65),(0.8,1.3),(0.9,-1.4),(1.0,1.2),(1.0,-1.3),(1.15,0.95),(1.15,-1.3),(1.25,-0.9),(1.3,0.7),(1.3,0.1),(1.4,-0.5),(1.38,0.9),(1.5,0.1),(1.5,-0.3),(1.63,0.2),(1.15,0.2),(1.2,-0.3),(-1.2,-0.4),(-1.1,-0.8),(-1.25,0.7),
(-1.6,0.1),(-1.4,-0.3),(-1.3,0.5),(-1.3,-0.6),(-1.15,0.9),(-1.15,-1.1),(-1.05,-0.5),(-1.08,1.1),(-0.95,-1.2),(-0.92,1.3),(-0.78,-1.3),(-0.75,1.3),(-0.6,-1.35),(-0.55,1.35),(-0.4,-1.4),(-0.35,1.35),(-0.2,-1.4),(-0.1,1.4),(0.05,-1.4),(0.1,1.35),(0.25,-1.4),(0.35,1.3),(0.42,-1.4),(0.52,1.3),(0.62,-1.35),(0.7,1.25),(0.82,-1.25),(0.9,1.1),(1.08,-1.1),(1.1,0.6),(1.22,0.45),(1.25,-0.6),(1.1,-0.6),(1.35,0.4),(1.42,0.2),(1.05,-0.95)]
P6_BLUE = [(-1.15,0.1),(-1.15,-0.25),(-1.05,0.45),(-0.95,-0.55),(-0.88,0.8),(-0.75,-0.95),(-0.72,0.9),(-0.55,-1.05),(-0.55,0.95),(-0.35,-1.1),(-0.35,0.95),(-0.15,-1.25),(-0.1,1.0),(0.1,-1.1),(0.15,1.1),(0.3,-1.2),(0.35,1.05),(0.55,-1.05),(0.55,1.0),(0.75,-0.95),(0.75,0.95),(0.95,-0.6),(0.95,0.75),(1.1,0.15),(1.1,-0.2),(1.0,0.3),(-0.9,0.0),(0.9,0.0),
(-1.0,-0.2),(-0.98,0.2),(-0.85,0.4),(-0.85,-0.4),(-0.75,0.6),(-0.72,-0.6),(-0.62,0.6),(-0.6,-0.7),(-0.45,0.7),(-0.45,-0.8),(-0.25,0.8),(-0.25,-0.85),(-0.05,0.75),(-0.05,-0.85),(0.15,0.75),(0.2,-0.85),(0.4,0.8),(0.4,-0.8),(0.62,0.7),(0.62,-0.7),(0.8,0.5),(0.82,-0.55),(0.88,0.3),(0.95,-0.3)]
P6_PURPLE = [(-0.72,0.15),(-0.68,-0.25),(-0.55,0.3),(-0.55,-0.3),(-0.4,0.3),(-0.42,-0.4),(-0.3,0.65),(-0.28,-0.35),(-0.15,0.35),(-0.15,-0.45),(0.0,0.35),(0.0,-0.35),(0.1,0.45),(0.15,-0.5),(0.3,0.65),(0.3,-0.6),(0.42,0.45),(0.45,-0.4),(0.55,0.25),(0.55,-0.35),(0.65,0.2),(0.68,-0.25),(0.78,0.02),
(-0.62,0.0),(-0.48,0.0),(-0.35,0.0),(-0.22,0.05),(-0.08,0.0),(0.05,0.0),(0.2,0.05),(0.32,0.0),(0.48,0.0),(0.6,0.0),(-0.22,0.55),(0.22,-0.4),(0.22,0.4)]

# ---------- panel 7 ----------
P7_YELLOW_BACK = [(-3.08,0.15),(-2.94,0.55),(-2.65,0.42),(-2.55,-0.08),(-2.7,-0.75),(-2.38,0.1),(-2.5,1.9),(-2.23,-0.3),(-2.17,0.3),(-2.17,-1.95),(-2.15,-0.9),(-2.02,0.15),(-2.03,-1.3),(-1.9,-0.8),(-1.85,-0.1),(-1.8,0.3),(-1.8,-1.2),(-1.66,2.25),(-1.67,-2.4),(-1.65,-1.3),(-1.55,1.05),(-1.49,2.4),(-1.55,-3.2),(-1.45,-1.5),(-1.4,1.7),(-1.35,-0.5),(-1.3,0.3),(-1.2,1.45),(-1.2,-1.0),(-1.2,-2.0),(-1.05,-1.5),(-1.0,0.4),(-1.0,-2.2),(-0.8,2.4),(-0.75,-0.7),(-0.6,2.2),(-0.55,-1.2),(-0.45,-2.5),(-0.3,2.5),(-0.28,-3.0),(-0.25,-1.7),(-0.25,2.3),(-0.1,-0.9),(-0.07,-2.8),(0.04,-2.5),(0.1,2.1),(0.1,1.4),(0.15,-1.9),(0.22,2.2),(0.35,-2.4),(0.4,1.6),(0.52,2.2),(0.57,-2.5),(0.68,-3.1),(0.9,2.35),(1.02,-2.0),(1.03,-2.3),(1.17,-2.7),(1.28,-2.7),(1.28,-2.0),(1.37,-2.6),(1.36,2.2),(1.6,2.6),(1.65,1.35),(1.78,-1.0),(1.9,-1.85),(1.9,-1.0),(2.0,1.55),(2.0,0.3),(2.15,-1.7),(2.17,0.2),(2.25,-1.3),(2.24,-2.8),(2.24,1.4),(2.28,0.85),(2.35,-0.5),(2.38,0.95),(2.43,0.2),(2.42,-0.1),(2.55,-2.0),(2.67,0.95),(2.67,0.6),(2.8,0.8),(3.03,-0.7),(3.03,-1.05),(3.8,-0.45),(1.78,-0.5),(1.95,1.2),
(-1.95,-0.3),(-1.7,-0.5),(-1.55,0.5),(-1.5,-0.9),(-1.25,-1.4),(-0.9,-1.9),(-0.7,-1.9),(-0.55,-2.1),(-0.1,-2.1),(0.45,-1.6),(0.55,-2.0),(0.8,-2.2),(0.95,-1.0),(1.1,1.6),(1.25,1.2),(1.45,1.3),(1.7,0.5),(1.8,-0.2),(1.9,-0.8),(-1.1,1.2),(-0.55,1.7),(0.0,1.7),(0.55,1.8),(0.85,1.7),
(-1.45,-0.2),(-1.6,0.1),(-1.35,-1.0),(-1.15,-1.6),(-0.8,-1.5),(-0.65,1.6),(-0.4,1.5),(-0.1,1.5),(0.3,1.6),(0.7,1.5),(1.2,0.9),(1.4,-1.0),(1.1,-1.5),(0.2,-1.6),(-0.2,-1.6)]
P7_PURPLE = [(-2.5,0.3),(-2.03,1.1),(-2.05,-0.5),(-1.83,1.5),(-1.75,0.5),(-1.6,-0.6),(-1.58,1.05),(-1.4,-0.8),(-1.3,0.8),(-1.15,1.0),(-1.1,0.2),(-1.05,-0.8),(-1.0,0.9),(-0.9,-0.4),(-0.85,2.0),(-0.8,1.1),(-0.8,-2.0),(-0.7,0.9),(-0.65,0.2),(-0.55,0.5),(-0.5,-0.2),(-0.55,-0.8),(-0.45,-2.1),(-0.38,2.05),(-0.35,0.9),(-0.3,-0.5),(-0.25,1.8),(-0.25,-1.9),(-0.15,0.2),(-0.1,-1.2),(0.0,1.3),(0.05,-0.5),(0.1,-1.2),(0.2,0.9),(0.25,-0.5),(0.3,-1.2),(0.35,-1.9),(0.45,0.2),(0.6,0.9),(0.7,0.1),(0.75,-0.9),(0.8,1.4),(0.85,0.5),(0.9,-0.1),(0.78,-1.7),(1.02,2.0),(1.05,-0.8),(1.1,0.6),(1.2,-1.2),(1.2,-0.3),(1.3,-1.3),(1.37,-0.1),(1.53,1.75),(1.55,0.5),(1.6,-0.7),(1.75,0.0),(1.8,0.9),(1.9,0.2),(-0.55,-0.3),(-0.4,0.1),(0.0,-0.8),(0.15,-0.9),(0.75,0.4),(0.9,0.8),
(-0.6,0.1),(-0.55,-0.6),(-0.45,0.4),(-0.5,-1.0),(-0.1,-0.9),(-0.05,-1.3),(0.1,-0.5),(0.2,-0.9),(0.4,-1.0),(0.55,0.4),(0.65,0.8),(0.75,-0.3),(0.8,0.2),(0.85,-1.2),(0.75,-1.2),(0.05,0.8),(0.1,1.0),(-0.15,0.7),(-0.85,0.8),(-0.95,1.0),(-1.3,0.4),(-1.15,-0.6),(-0.75,0.4),(0.95,0.3),(-0.05,-0.3),(-0.3,-0.9),(0.5,-0.7),
(-0.6,-0.1),(-0.45,-0.3),(-0.5,0.15),(-0.6,0.5),(0.0,-1.0),(0.2,-1.3),(0.3,-0.9),(0.7,0.5),(0.82,-0.5),(0.9,0.1),(0.7,-1.5),(0.05,-0.15),(0.25,-1.05)]
P7_YELLOW_FRONT = [(-1.85,1.0),(-1.7,0.0),(-1.6,-0.3),(-1.75,-0.9),(-1.45,0.5),(-1.3,-0.1),(-1.25,-0.9),(-1.15,0.2),(-1.1,-1.5),(-0.95,0.2),(-0.9,-1.2),(-0.75,1.3),(-0.65,-1.5),(-0.65,1.4),(-0.5,1.1),(-0.4,-1.6),(-0.4,0.6),(-0.25,0.3),(-0.2,1.0),(-0.15,-1.4),(-0.2,-0.5),(-0.05,0.8),(0.1,0.55),(0.2,1.6),(0.3,-0.2),(0.35,0.4),(0.4,-0.6),(0.48,0.25),(0.52,1.3),(0.6,-0.9),(0.62,-1.8),(0.65,1.6),(0.95,-1.5),(1.0,0.2),(1.0,1.2),(1.2,0.7),(1.15,-0.7),(1.25,0.15),(1.3,0.9),(1.4,-0.2),(1.42,0.9),(1.5,-0.8),(1.6,0.1),(1.68,0.9),(1.85,-0.5),(1.1,-0.1),(0.45,-1.3),(0.2,-2.0),(-0.05,-1.9),(-0.95,-1.6),(-1.5,-0.2),(-1.05,-0.2),
(-1.65,0.7),(-1.55,-1.1),(-1.4,1.0),(-1.35,-1.2),(-1.2,0.5),(-1.25,0.05),(-1.0,-0.9),(-0.85,-1.5),(-0.8,0.1),(-0.7,-0.9),(-0.6,1.0),(-0.75,-1.2),(-0.3,-1.3),(0.3,1.3),(0.5,0.9),(0.55,-1.6),(1.05,-1.6),(1.35,0.5),(1.5,0.4),(1.55,-0.3),(1.75,0.5),(1.65,-1.0),(-0.3,1.4),(0.3,1.9)]

# axis ticks and their labels
P1_X_T, P1_X_L = [-3,-2,-1,0,1,2,3,4], ["−3","−2","−1","0","1","2","3","4"]
P1_Y_T, P1_Y_L = [-2.5,0,2.5], ["−2.5","0.0","2.5"]
P2_X_T, P2_X_L = [-4,-3,-2,-1,0,1,2,3], ["−4","−3","−2","−1","0","1","2","3"]
P3_X_T, P3_X_L = [-2,-1,0,1,2,3], ["−2","−1","0","1","2","3"]
P3_Y_T, P3_Y_L = [-5,0], ["−5","0"]
P4_X_T, P4_X_L = [-4,-3,-2,-1,0,1,2], ["−4","−3","−2","−1","0","1","2"]
P4_Y_T, P4_Y_L = [0,5], ["0","5"]
P5_X_T, P5_X_L = [-7.5,-5,-2.5,0,2.5,5,7.5,10], ["−7.5","−5.0","−2.5","0.0","2.5","5.0","7.5","10.0"]
P5_Y_T, P5_Y_L = [-10,0,10], ["−10","0","10"]
P6_X_T, P6_X_L = [-3,-2,-1,0,1,2,3], ["−3","−2","−1","0","1","2","3"]

def make(title, xr, yr, xt, xl, yt, yl, layers, width, left, right, top, bottom):
    p = figure(width=width, height=top + 103 + bottom, frame_width=540, frame_height=103,
               x_range=xr, y_range=yr, output_backend="svg", toolbar_location=None,
               min_border_left=left, min_border_right=right, min_border_top=top, min_border_bottom=bottom)
    p.grid.visible = False
    p.outline_line_color = "black"
    p.outline_line_width = 1.1
    p.title.text = title
    p.title.align = "center"
    p.title.text_font = FONT
    p.title.text_font_size = "11.6px"
    p.title.text_font_style = "normal"
    p.title.text_color = "#000000"
    p.title.offset = 0
    p.title.standoff = 10
    for ax, ticks, labels in ((p.xaxis[0], xt, xl), (p.yaxis[0], yt, yl)):
        ax.ticker = FixedTicker(ticks=ticks)
        ax.major_label_overrides = dict(zip(ticks, labels))
        ax.major_label_text_font = FONT
        ax.major_label_text_font_size = "13.5px"
        ax.major_label_text_color = "#000000"
        ax.major_tick_in = 0
        ax.major_tick_out = 5
        ax.major_tick_line_width = 1.1
        ax.minor_tick_line_color = None
        ax.axis_line_width = 1.1
        ax.major_label_standoff = 4
    p.yaxis[0].major_label_orientation = "horizontal"
    for pts, col in layers:
        src = ColumnDataSource(dict(x=[a for a, _ in pts], y=[b for _, b in pts]))
        p.scatter("x", "y", source=src, size=11, fill_color=col, line_color=None)
    return p

p1 = make(TITLES[0], (-3.376,4.216), (-2.76,4.14), P1_X_T, P1_X_L, P1_Y_T, P1_Y_L,
          [(P1_PURPLE+P1_PURPLE_FILL,PURPLE),(P1_YELLOW+P1_YELLOW_FILL,YELLOW),(P1_TOP_PURPLE,PURPLE),(P1_TOP_YELLOW,YELLOW)], 677, 137, 0, 67, 26)
p2 = make(TITLES[1], (-4.443,3.547), (-3.32,3.62), P2_X_T, P2_X_L, P1_Y_T, P1_Y_L,
          [(P2_PURPLE+P2_PURPLE_FILL,PURPLE),(P2_YELLOW+P2_YELLOW_FILL,YELLOW),(P2_TOP_PURPLE,PURPLE),(P2_TOP_YELLOW,YELLOW)], 689, 81, 68, 67, 26)
p3 = make(TITLES[2], (-2.89,3.85), (-5.94,3.69), P3_X_T, P3_X_L, P3_Y_T, P3_Y_L,
          [(P3_PURPLE+P3_PURPLE_FILL,PURPLE),(P3_YELLOW_LINE,YELLOW),(P3_YELLOW,YELLOW),(P3_PURPLE_LINE,PURPLE)], 677, 137, 0, 26, 26)
p4 = make(TITLES[3], (-4.0,2.906), (-3.5,5.65), P4_X_T, P4_X_L, P4_Y_T, P4_Y_L,
          [(P4_TEAL,TEAL),(P4_PURPLE,PURPLE),(P4_YELLOW,YELLOW)], 689, 81, 68, 26, 26)
p5 = make(TITLES[4], (-9.67,11.5), (-15.0,14.5), P5_X_T, P5_X_L, P5_Y_T, P5_Y_L,
          [(P5_PURPLE,PURPLE),(P5_TEAL,TEAL),(P5_YELLOW,YELLOW)], 677, 137, 0, 26, 26)
p6 = make(TITLES[5], (-3.63,3.68), (-3.9,3.74), P6_X_T, P6_X_L, P1_Y_T, P1_Y_L,
          [(P6_YELLOW,YELLOW),(P6_GREEN,GREEN4),(P6_BLUE,BLUE4),(P6_PURPLE,PURPLE)], 689, 81, 68, 26, 26)
p7 = make(TITLES[6], (-3.44,4.16), (-3.59,2.92), P1_X_T, P1_X_L, P1_Y_T, P1_Y_L,
          [(P7_YELLOW_BACK,YELLOW),(P7_PURPLE,PURPLE),(P7_YELLOW_FRONT,YELLOW)], 677, 137, 0, 26, 26)

blank = figure(width=689, height=155, frame_width=689, frame_height=155, output_backend="svg", toolbar_location=None,
               min_border_left=0, min_border_right=0, min_border_top=0, min_border_bottom=0,
               x_axis_location=None, y_axis_location=None, x_range=(0, 689), y_range=(0, 155))
blank.grid.visible = False
blank.outline_line_color = None
blank.add_layout(Label(x=408, y=29, text="https://blog.csdn.net/weixin_48615832", text_font="Liberation Sans",
                       text_font_size="16px", text_color="#ececec"))

layout = column(row(p1, p2), row(p3, p4), row(p5, p6), row(p7, blank))
open("out.html", "w").write(file_html(layout, INLINE))
